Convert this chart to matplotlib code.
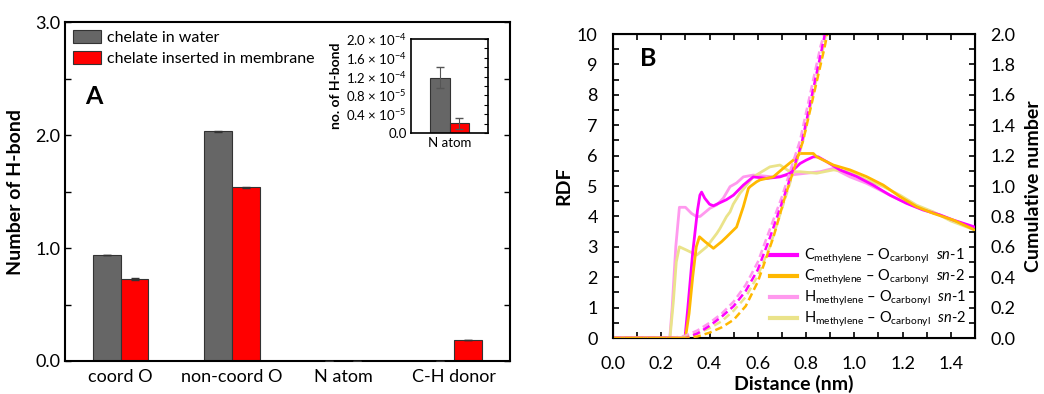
import matplotlib
matplotlib.use("Agg")
import matplotlib.pyplot as plt
from matplotlib.ticker import MultipleLocator, FixedLocator
import numpy as np

plt.rcParams['font.family'] = ['Lato', 'DejaVu Sans']
plt.rcParams['mathtext.fontset'] = 'custom'
plt.rcParams['mathtext.rm'] = 'Lato'
plt.rcParams['mathtext.it'] = 'Lato:italic'
plt.rcParams['mathtext.bf'] = 'Lato:bold'

# ---------------- Panel A data ----------------
categories = ["coord O", "non-coord O", "N atom", "C-H donor"]
water = [0.938, 2.035, 1.18e-4, 0.0]
water_err = [0.004, 0.004, 0.2e-4, 0.0]
membrane = [0.726, 1.537, 0.21e-4, 0.186]
membrane_err = [0.005, 0.007, 0.12e-4, 0.004]
series_labels = ["chelate in water", "chelate inserted in membrane"]

inset_category = ["N atom"]
inset_water = [1.18e-4]
inset_water_err = [0.23e-4]
inset_membrane = [0.21e-4]
inset_membrane_err = [0.12e-4]
inset_ticks = [0.0, 0.4e-4, 0.8e-4, 1.2e-4, 1.6e-4, 2.0e-4]
inset_ticklabels = ["0.0", "0.4 × 10$^{-5}$", "0.8 × 10$^{-5}$", "1.2 × 10$^{-4}$",
                    "1.6 × 10$^{-4}$", "2.0 × 10$^{-4}$"]

# ---------------- Panel B data ----------------
# RDF curves (left axis)
c_sn1_d = [0, 0.298, 0.31, 0.33, 0.35, 0.36, 0.367, 0.38, 0.40, 0.416, 0.443, 0.47, 0.499,
           0.54, 0.581, 0.637, 0.692, 0.733, 0.775, 0.80, 0.83, 0.85, 0.885, 0.94, 1.01,
           1.078, 1.147, 1.216, 1.285, 1.355, 1.41, 1.5]
c_sn1_g = [0, 0, 1.0, 2.8, 4.2, 4.7, 4.8, 4.6, 4.4, 4.35, 4.45, 4.55, 4.7,
           5.03, 5.3, 5.25, 5.3, 5.42, 5.74, 5.85, 5.96, 5.96, 5.8, 5.53, 5.31,
           5.03, 4.7, 4.43, 4.21, 4.05, 3.88, 3.65]

c_sn2_d = [0, 0.30, 0.315, 0.33, 0.345, 0.358, 0.381, 0.416, 0.45, 0.471, 0.485, 0.512,
           0.54, 0.561, 0.568, 0.595, 0.609, 0.664, 0.705, 0.747, 0.775, 0.788, 0.83,
           0.844, 0.913, 0.982, 1.05, 1.12, 1.189, 1.258, 1.327, 1.41, 1.5]
c_sn2_g = [0, 0, 0.8, 2.0, 3.0, 3.33, 3.17, 2.95, 3.17, 3.33, 3.44, 3.65,
           4.32, 4.92, 4.98, 5.14, 5.2, 5.3, 5.58, 5.85, 6.07, 6.07, 6.07,
           5.96, 5.69, 5.53, 5.31, 5.03, 4.65, 4.32, 4.1, 3.88, 3.55]

h_sn1_d = [0, 0.235, 0.245, 0.26, 0.275, 0.30, 0.325, 0.347, 0.361, 0.402, 0.43, 0.457,
           0.485, 0.512, 0.54, 0.581, 0.664, 0.733, 0.80, 0.858, 0.913, 0.982, 1.05,
           1.12, 1.19, 1.26, 1.33, 1.40, 1.5]
h_sn1_g = [0, 0, 1.0, 3.0, 4.3, 4.3, 4.1, 3.99, 4.0, 4.27, 4.38, 4.6,
           4.98, 5.1, 5.3, 5.36, 5.3, 5.36, 5.42, 5.47, 5.58, 5.3, 5.09,
           4.81, 4.54, 4.3, 4.12, 3.9, 3.62]

h_sn2_d = [0, 0.236, 0.25, 0.262, 0.275, 0.305, 0.347, 0.388, 0.43, 0.443, 0.47, 0.485,
           0.498, 0.526, 0.581, 0.65, 0.692, 0.733, 0.775, 0.844, 0.913, 0.982, 1.05,
           1.12, 1.189, 1.258, 1.327, 1.40, 1.5]
h_sn2_g = [0, 0, 1.2, 2.5, 3.0, 2.89, 2.73, 3.0, 3.44, 3.6, 3.99, 4.15,
           4.4, 4.76, 5.3, 5.63, 5.69, 5.47, 5.47, 5.42, 5.53, 5.47, 5.2,
           4.98, 4.7, 4.37, 4.15, 3.85, 3.55]

# Cumulative numbers (right axis)
c_sn1_cd = [0, 0.30, 0.35, 0.40, 0.45, 0.50, 0.55, 0.60, 0.65, 0.70, 0.78, 0.865, 0.878]
c_sn1_cn = [0, 0, 0.03, 0.08, 0.14, 0.21, 0.31, 0.45, 0.66, 0.89, 1.27, 1.90, 2.0]
c_sn2_cd = [0, 0.30, 0.35, 0.40, 0.45, 0.50, 0.55, 0.60, 0.664, 0.713, 0.788, 0.875, 0.888]
c_sn2_cn = [0, 0, 0.01, 0.035, 0.07, 0.12, 0.21, 0.37, 0.66, 0.93, 1.30, 1.90, 2.0]
h_sn1_cd = [0, 0.243, 0.30, 0.35, 0.40, 0.45, 0.50, 0.55, 0.60, 0.637, 0.70, 0.775, 0.86, 0.875]
h_sn1_cn = [0, 0, 0.015, 0.05, 0.10, 0.16, 0.24, 0.35, 0.50, 0.66, 0.93, 1.30, 1.92, 2.0]
h_sn2_cd = [0, 0.243, 0.30, 0.35, 0.40, 0.45, 0.50, 0.55, 0.60, 0.65, 0.70, 0.785, 0.87, 0.883]
h_sn2_cn = [0, 0, 0.008, 0.03, 0.065, 0.11, 0.18, 0.27, 0.41, 0.60, 0.85, 1.28, 1.90, 2.0]

rdf_labels = [r"C$_{\mathregular{methylene}}$ – O$_{\mathregular{carbonyl}}$  $\it{sn}$-1",
              r"C$_{\mathregular{methylene}}$ – O$_{\mathregular{carbonyl}}$  $\it{sn}$-2",
              r"H$_{\mathregular{methylene}}$ – O$_{\mathregular{carbonyl}}$  $\it{sn}$-1",
              r"H$_{\mathregular{methylene}}$ – O$_{\mathregular{carbonyl}}$  $\it{sn}$-2"]

GRAY = "#666666"
RED = "#FF0000"
MAG = "#FF00FF"
ORA = "#FFB800"
PINK = "#FF99EE"
YEL = "#EAE38A"

fig = plt.figure(figsize=(10.44, 3.94), dpi=100)

# ---------------- Panel A ----------------
axA = fig.add_axes([0.0623, 0.0838, 0.4262, 0.860])
x = np.arange(len(categories))
w = 0.25
axA.bar(x - w / 2, water, w, color=GRAY, edgecolor="#333333", linewidth=0.8,
        label=series_labels[0], zorder=2)
axA.bar(x + w / 2, membrane, w, color=RED, edgecolor="#333333", linewidth=0.8,
        label=series_labels[1], zorder=2)
axA.errorbar(x - w / 2, water, yerr=water_err, fmt="none", ecolor="#333333",
             elinewidth=0.8, capsize=3, zorder=3)
axA.errorbar(x + w / 2, membrane, yerr=membrane_err, fmt="none", ecolor="#333333",
             elinewidth=0.8, capsize=3, zorder=3)
axA.set_xlim(-0.5, 3.5)
axA.set_ylim(0, 3.0)
axA.set_xticks(x)
axA.set_xticklabels(categories, fontsize=13)
axA.set_yticks([0, 1, 2, 3])
axA.set_yticklabels(["0.0", "1.0", "2.0", "3.0"], fontsize=13)
axA.yaxis.set_minor_locator(MultipleLocator(0.5))
axA.tick_params(axis="x", length=0, pad=6)
axA.tick_params(axis="y", which="both", direction="in", right=True, left=True,
                length=4, width=1)
for s in axA.spines.values():
    s.set_linewidth(1.5)
axA.set_ylabel("Number of H-bond", fontsize=14, fontweight="bold", labelpad=8)
leg = axA.legend(loc="upper left", frameon=False, fontsize=11.5, handlelength=1.75,
                 handleheight=0.9, borderaxespad=0.2, borderpad=0.3, labelspacing=0.35,
                 handletextpad=0.35)
for p in leg.get_patches():
    p.set_edgecolor("#333333")
axA.text(0.045, 0.78, "A", transform=axA.transAxes, fontsize=18, fontweight="bold",
         va="center", ha="left")

# Inset
axI = fig.add_axes([0.3937, 0.6624, 0.0738, 0.2386])
axI.bar([-w / 2], inset_water, w, color=GRAY, edgecolor="#333333", linewidth=0.8, zorder=2)
axI.bar([w / 2], inset_membrane, w, color=RED, edgecolor="#333333", linewidth=0.8, zorder=2)
axI.errorbar([-w / 2], inset_water, yerr=inset_water_err, fmt="none", ecolor="#555555",
             elinewidth=0.8, capsize=3, zorder=3)
axI.errorbar([w / 2], inset_membrane, yerr=inset_membrane_err, fmt="none", ecolor="#555555",
             elinewidth=0.8, capsize=3, zorder=3)
axI.set_xlim(-0.5, 0.5)
axI.set_ylim(0, 2.0e-4)
axI.set_xticks([0])
axI.set_xticklabels(inset_category, fontsize=9.5)
axI.yaxis.set_major_locator(FixedLocator(inset_ticks))
axI.set_yticklabels(inset_ticklabels, fontsize=9.5)
axI.yaxis.set_minor_locator(MultipleLocator(0.2e-4))
axI.tick_params(axis="x", length=0, pad=3)
axI.tick_params(axis="y", which="both", direction="in", right=True, left=False,
                length=3, width=0.8, pad=3)
for s in axI.spines.values():
    s.set_linewidth(1.2)
axI.set_ylabel("no. of H-bond", fontsize=10, fontweight="bold", labelpad=3)

# ---------------- Panel B ----------------
axB = fig.add_axes([0.5872, 0.1421, 0.3467, 0.7716])
axB.plot(h_sn1_d, h_sn1_g, color=PINK, lw=2.0, label=rdf_labels[2], zorder=2)
axB.plot(h_sn2_d, h_sn2_g, color=YEL, lw=2.0, label=rdf_labels[3], zorder=2)
axB.plot(c_sn1_d, c_sn1_g, color=MAG, lw=2.0, label=rdf_labels[0], zorder=3)
axB.plot(c_sn2_d, c_sn2_g, color=ORA, lw=2.0, label=rdf_labels[1], zorder=3)
axB.set_xlim(0, 1.5)
axB.set_ylim(0, 10)
axB.set_xticks(np.arange(0, 1.41, 0.2))
axB.set_xticklabels(["%.1f" % v for v in np.arange(0, 1.41, 0.2)], fontsize=13)
axB.set_yticks(range(0, 11))
axB.set_yticklabels([str(v) for v in range(0, 11)], fontsize=13)
axB.xaxis.set_minor_locator(MultipleLocator(0.1))
axB.yaxis.set_minor_locator(MultipleLocator(0.5))
axB.tick_params(axis="both", which="both", direction="in", top=True, right=False,
                length=4, width=1.2)
axB.tick_params(axis="x", pad=13)
axB.tick_params(axis="y", pad=11)
for s in axB.spines.values():
    s.set_linewidth(1.5)
axB.set_xlabel("Distance (nm)", fontsize=14, fontweight="bold", labelpad=2)
axB.set_ylabel("RDF", fontsize=14, fontweight="bold", labelpad=3)
axB.text(0.075, 0.92, "B", transform=axB.transAxes, fontsize=18, fontweight="bold",
         va="center", ha="left")

axC = axB.twinx()
dash = (3.0, 1.6)
axC.plot(h_sn1_cd, h_sn1_cn, color=PINK, lw=1.8, dashes=dash)
axC.plot(h_sn2_cd, h_sn2_cn, color=YEL, lw=1.8, dashes=dash)
axC.plot(c_sn1_cd, c_sn1_cn, color=MAG, lw=1.8, dashes=dash)
axC.plot(c_sn2_cd, c_sn2_cn, color=ORA, lw=1.8, dashes=dash)
axC.set_ylim(0, 2.0)
axC.set_yticks(np.arange(0, 2.01, 0.2))
axC.set_yticklabels(["%.1f" % v for v in np.arange(0, 2.01, 0.2)], fontsize=13)
axC.yaxis.set_minor_locator(MultipleLocator(0.1))
axC.tick_params(axis="y", which="both", direction="in", length=4, width=1.2, pad=11)
axC.set_ylabel("Cumulative number", fontsize=14, fontweight="bold", labelpad=7)

handles, labels = axB.get_legend_handles_labels()
order = [2, 3, 0, 1]
legB = axB.legend([handles[i] for i in order], [labels[i] for i in order],
                  loc="lower right", frameon=False, fontsize=10.5, handlelength=1.8,
                  labelspacing=0.12, borderaxespad=0.2, borderpad=0.4,
                  handletextpad=0.5)
for l in legB.get_lines():
    l.set_linewidth(3)

fig.savefig("out.png", dpi=100)
